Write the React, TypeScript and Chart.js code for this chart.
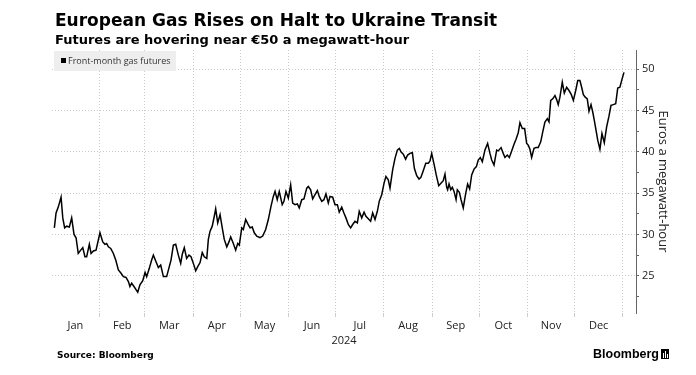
import React, { useEffect, useRef } from 'react';
import { Chart, registerables } from 'chart.js';

Chart.register(...registerables);

// Day of year 2024 (Jan 1 = 0) for each observation
const days = [
  2.0, 3.1, 4.5, 6.3, 7.4, 8.6, 9.9, 11.6, 13.1, 14.6, 15.9, 17.3, 18.9, 20.2, 21.6, 22.7, 24.4, 25.5, 27.0, 28.7,
  31.2, 33.0, 34.4, 35.5, 36.6, 38.1, 39.8, 41.3, 43.0, 44.7, 46.2, 47.9, 49.4, 50.4, 51.5, 53.0, 55.4, 56.8, 58.6,
  60.1, 61.1, 62.8, 64.3, 65.4, 67.1, 68.6, 70.1, 71.8, 73.9, 76.7, 78.2, 79.7, 81.4, 82.9, 83.9, 85.2, 86.7, 88.2,
  89.5, 91.0, 92.5, 93.8, 95.3, 96.7, 98.0, 99.6, 100.6, 101.7, 103.1, 104.4, 105.3, 106.6, 108.1, 109.5, 110.8,
  112.4, 113.8, 114.9, 116.6, 118.1, 119.4, 120.4, 122.0, 123.0, 124.5, 125.8, 127.3, 128.7, 130.0, 131.6, 133.7,
  135.4, 137.3, 139.0, 140.7, 142.2, 143.3, 144.7, 146.0, 147.9, 149.0, 150.3, 151.8, 153.3, 154.6, 156.1, 157.6,
  158.8, 160.4, 161.8, 163.6, 164.6, 166.1, 167.4, 168.9, 170.4, 171.6, 173.2, 174.6, 175.9, 177.4, 178.5, 180.2,
  181.7, 183.2, 184.4, 186.0, 187.4, 188.7, 190.2, 191.7, 193.0, 194.5, 196.0, 197.2, 198.8, 200.3, 201.5, 203.0,
  204.5, 205.8, 207.3, 208.8, 210.0, 211.6, 213.1, 214.3, 215.8, 216.9, 218.6, 220.1, 221.6, 222.9, 223.9, 225.4,
  226.9, 228.2, 229.7, 231.2, 232.5, 234.0, 235.5, 236.7, 238.2, 239.8, 241.4, 242.5, 243.6, 245.1, 246.5, 248.1,
  249.5, 251.0, 252.1, 253.2, 253.8, 254.7, 255.8, 256.8, 257.9, 259.2, 260.0, 261.3, 262.4, 263.8, 265.4, 266.6,
  267.9, 269.2, 270.7, 272.2, 273.4, 274.7, 276.0, 277.7, 279.4, 280.9, 282.0, 283.5, 285.2, 286.2, 288.0, 289.4,
  290.5, 292.0, 293.3, 294.8, 296.3, 297.6, 299.0, 300.1, 301.6, 303.1, 304.4, 305.4, 306.5, 307.6, 309.1, 310.4,
  311.8, 313.4, 314.7, 316.1, 317.6, 318.7, 319.8, 321.1, 322.5, 323.6, 324.6, 325.7, 327.2, 328.5, 330.0, 331.5,
  333.0, 334.3, 335.8, 337.1, 338.5, 339.6, 340.7, 341.9, 343.2, 344.3, 345.6, 346.7, 347.7, 348.8, 349.9, 351.3,
  352.6, 354.1, 355.6, 357.1, 358.4, 359.9, 361.4, 362.7, 364.1, 365.2, 366.7,
];

// Front-month gas futures, euros per megawatt-hour
const prices = [
  30.8, 32.6, 33.3, 34.5, 32.0, 30.8, 31.0, 30.9, 32.0, 30.0, 29.6, 27.7, 28.1, 28.4, 27.3, 27.3, 28.8, 27.7, 28.0, 28.1,
  30.2, 29.1, 28.8, 28.9, 28.5, 28.3, 27.7, 26.9, 25.7, 25.3, 24.9, 24.8, 24.3, 23.7, 24.1, 23.7, 23.0, 23.9, 24.4,
  25.4, 24.9, 25.9, 26.9, 27.5, 26.7, 26.0, 26.3, 24.9, 24.9, 26.9, 28.7, 28.8, 27.5, 26.5, 27.6, 28.4, 27.1, 27.5,
  27.3, 26.5, 25.6, 26.1, 26.6, 27.8, 27.3, 27.1, 29.4, 30.4, 31.0, 32.2, 33.1, 31.4, 32.4, 30.8, 29.4,
  28.5, 29.1, 29.7, 28.9, 28.1, 28.9, 28.7, 30.8, 30.6, 31.8, 31.3, 30.8, 30.9, 30.2, 29.8, 29.6,
  29.8, 30.6, 31.8, 33.4, 34.6, 35.2, 34.2, 35.2, 33.6, 34.0, 35.2, 34.4, 36.0, 33.8, 33.6, 33.7,
  33.2, 34.2, 34.3, 35.6, 35.8, 35.4, 34.3, 34.8, 35.3, 34.6, 34.0, 34.2, 34.9, 33.8, 34.6, 34.5,
  33.6, 33.6, 32.7, 33.3, 32.6, 32.0, 31.2, 30.8, 31.2, 31.6, 31.4, 32.8, 32.0, 32.7, 32.2, 31.9,
  31.6, 32.6, 31.8, 32.8, 34.0, 34.8, 36.2, 37.0, 36.6, 35.6, 37.8, 39.2, 40.2, 40.4, 40.0, 39.7,
  39.1, 39.6, 39.8, 39.9, 38.0, 37.1, 36.7, 36.9, 37.7, 38.6, 38.6, 38.9, 39.8, 38.5, 37.2, 35.9,
  36.2, 36.5, 37.3, 35.7, 35.4, 36.1, 35.4, 35.7, 35.2, 34.2, 35.4, 35.1, 34.2, 33.2, 35.0, 36.1,
  35.5, 37.2, 37.9, 38.2, 39.0, 39.3, 38.8, 40.2, 41.0, 39.8, 39.0, 38.4, 40.2, 40.1, 40.5, 39.8,
  39.3, 39.6, 39.3, 40.1, 40.9, 41.5, 42.3, 43.5, 42.8, 42.8, 41.0, 40.8, 40.3, 39.3, 40.4, 40.5,
  40.5, 41.2, 42.4, 43.6, 44.0, 43.6, 46.2, 46.4, 46.8, 46.3, 45.7, 46.6, 48.4, 47.1, 47.8, 47.4,
  46.9, 46.2, 47.4, 48.6, 48.6, 47.8, 46.9, 46.6, 46.4, 44.9, 45.7, 44.8, 43.8, 42.6, 41.4, 40.3,
  42.2, 41.1, 43.0, 44.3, 45.6, 45.7, 45.8, 47.7, 47.8, 48.6, 49.6,
];

const monthLabels = ['Jan', 'Feb', 'Mar', 'Apr', 'May', 'Jun', 'Jul', 'Aug', 'Sep', 'Oct', 'Nov', 'Dec'];
const monthMid = [15.5, 45.5, 75.5, 106, 136.5, 167, 197.5, 228.5, 259, 289.5, 320, 350.5];
const monthStarts = [31, 60, 91, 121, 152, 182, 213, 244, 274, 305, 335, 366];
const yTickValues = [22.5, 25, 27.5, 30, 32.5, 35, 37.5, 40, 42.5, 45, 47.5, 50];

const GRID = '#cccccc';
const AXIS = '#666666';
const TEXT = '#222222';

export default function App() {
  const canvasRef = useRef<HTMLCanvasElement | null>(null);

  useEffect(() => {
    document.body.style.margin = '0';
    const canvas = canvasRef.current;
    if (!canvas) return;
    const chart = new Chart(canvas, {
      type: 'line',
      data: {
        datasets: [
          {
            label: 'Front-month gas futures',
            data: days.map((d, i) => ({ x: d, y: prices[i] })),
            borderColor: '#000000',
            borderWidth: 1.5,
            pointRadius: 0,
            fill: false,
            tension: 0,
          },
        ],
      },
      options: {
        animation: false,
        responsive: false,
        devicePixelRatio: 1,
        layout: { padding: { left: 52, top: 50, right: 0, bottom: 0 } },
        plugins: {
          legend: { display: false },
          tooltip: { enabled: false },
          title: { display: false },
        },
        scales: {
          x: {
            type: 'linear',
            position: 'bottom',
            min: 0.5,
            max: 374.4,
            afterBuildTicks: (s: any) => {
              s.ticks = [...monthStarts, ...monthMid]
                .sort((a, b) => a - b)
                .map((v) => ({ value: v }));
            },
            afterFit: (s: any) => {
              s.height = 62;
            },
            ticks: {
              autoSkip: false,
              maxRotation: 0,
              padding: 2,
              color: TEXT,
              font: { family: 'Open Sans', size: 11 },
              callback: (v: any) => {
                const i = monthMid.indexOf(Number(v));
                return i >= 0 ? monthLabels[i] : '';
              },
            },
            grid: {
              drawTicks: true,
              tickLength: 4,
              lineWidth: 1,
              color: (ctx: any) => (ctx.tick && monthStarts.includes(ctx.tick.value) ? GRID : 'rgba(0,0,0,0)'),
              tickColor: (ctx: any) => (ctx.tick && monthStarts.includes(ctx.tick.value) ? GRID : 'rgba(0,0,0,0)'),
            },
            border: { display: false, dash: [1, 2] },
            title: {
              display: true,
              text: '2024',
              color: TEXT,
              font: { family: 'Open Sans', size: 11 },
              padding: { top: 0, bottom: 28 },
            },
          },
          y: {
            type: 'linear',
            position: 'right',
            min: 20.5,
            max: 52.3,
            afterBuildTicks: (s: any) => {
              s.ticks = yTickValues.map((v) => ({ value: v }));
            },
            afterFit: (s: any) => {
              s.width = 60;
            },
            ticks: {
              autoSkip: false,
              padding: 3,
              color: TEXT,
              font: { family: 'Open Sans', size: 11 },
              callback: (v: any) => (Number(v) % 5 === 0 ? String(v) : ''),
            },
            grid: {
              drawTicks: true,
              tickLength: 3,
              lineWidth: 1,
              color: (ctx: any) => (ctx.tick && ctx.tick.value % 5 === 0 ? GRID : 'rgba(0,0,0,0)'),
              tickColor: AXIS,
            },
            border: { display: true, color: AXIS, width: 1, dash: [1, 2] },
            title: {
              display: true,
              text: 'Euros a megawatt-hour',
              color: TEXT,
              font: { family: 'Open Sans', size: 13 },
              padding: { top: 25, bottom: 0 },
            },
          },
        },
      },
    } as any);
    return () => chart.destroy();
  }, []);

  const bold = '"DejaVu Sans", Verdana, sans-serif';

  return (
    <div style={{ position: 'relative', width: 696, height: 375, background: '#ffffff', overflow: 'hidden' }}>
      <canvas ref={canvasRef} width={696} height={375} style={{ position: 'absolute', left: 0, top: 0 }} />
      <div
        style={{
          position: 'absolute', left: 55, top: 12, fontFamily: bold, fontWeight: 'bold',
          fontSize: 17, lineHeight: '17px', color: '#000', whiteSpace: 'nowrap',
        }}
      >
        European Gas Rises on Halt to Ukraine Transit
      </div>
      <div
        style={{
          position: 'absolute', left: 55, top: 33, fontFamily: bold, fontWeight: 'bold',
          fontSize: 13, lineHeight: '13px', color: '#000', whiteSpace: 'nowrap',
        }}
      >
        Futures are hovering near €50 a megawatt-hour
      </div>
      <div
        style={{
          position: 'absolute', left: 54, top: 51, width: 122, height: 20, background: '#eeeeee',
        }}
      >
        <div style={{ position: 'absolute', left: 7, top: 7, width: 5, height: 5, background: '#000' }} />
        <div
          style={{
            position: 'absolute', left: 14, top: 3, fontFamily: '"Open Sans", sans-serif', fontSize: 9,
            lineHeight: '14px', color: '#333', whiteSpace: 'nowrap',
          }}
        >
          Front-month gas futures
        </div>
      </div>
      <div
        style={{
          position: 'absolute', left: 57, top: 349, fontFamily: bold, fontWeight: 'bold',
          fontSize: 9, lineHeight: '12px', color: '#000', whiteSpace: 'nowrap',
        }}
      >
        Source: Bloomberg
      </div>
      <div
        style={{
          position: 'absolute', left: 593, top: 346, fontFamily: '"Liberation Sans", Arial, sans-serif',
          fontWeight: 'bold', fontSize: 12.5, lineHeight: '16px', color: '#000', whiteSpace: 'nowrap',
        }}
      >
        Bloomberg
      </div>
      <div style={{ position: 'absolute', left: 661, top: 349, width: 8, height: 10, background: '#000' }}>
        <div style={{ position: 'absolute', left: 2, top: 4, width: 1, height: 5, background: '#fff' }} />
        <div style={{ position: 'absolute', left: 4, top: 2, width: 1, height: 7, background: '#fff' }} />
        <div style={{ position: 'absolute', left: 6, top: 5, width: 1, height: 4, background: '#fff' }} />
      </div>
    </div>
  );
}
